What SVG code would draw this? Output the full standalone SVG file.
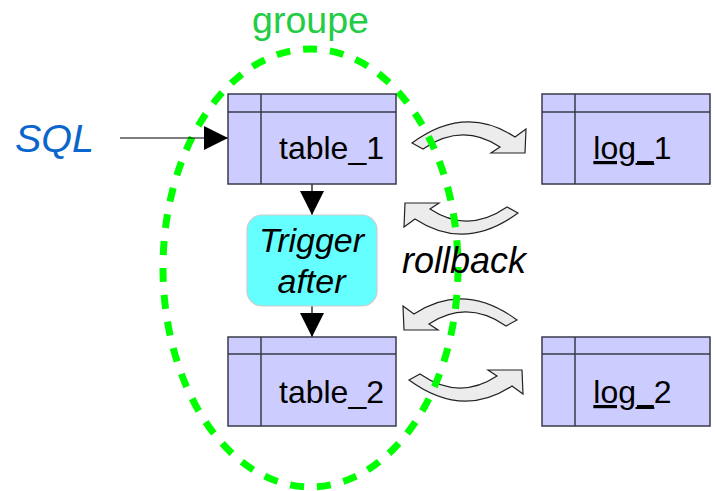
<svg xmlns="http://www.w3.org/2000/svg" width="716" height="491" viewBox="0 0 716 491">
<style>
.tbl{fill:#ccccff;stroke:#3a3a4a;stroke-width:1.5}
.ln{stroke:#3a3a4a;stroke-width:1.5;fill:none}
.t{font-family:"Liberation Sans",Arial,sans-serif;font-size:32px;fill:#000;text-anchor:middle}
.tr{font-family:"Liberation Sans",Arial,sans-serif;font-style:italic;font-size:34px;fill:#000;text-anchor:middle}
.it{font-family:"Liberation Sans",Arial,sans-serif;font-style:italic}
.conn{stroke:#000;stroke-width:1.2;fill:none}
.rb{fill:#ececec;stroke:#222;stroke-width:1.2;stroke-linejoin:miter}
</style>
<defs>
<path id="curl" d="M-56,5 Q-3,-34 47,-1 L58,-9 L57,15 L23,15 L32,9 Q-6,-16 -45,11 Z"/>
<marker id="ah" markerWidth="24" markerHeight="24" refX="24" refY="12" orient="auto" markerUnits="userSpaceOnUse">
<path d="M0,0 L24,12 L0,24 Z" fill="#000"/>
</marker>
</defs>

<g id="rollback-arrows">
<use href="#curl" class="rb" transform="translate(468,138)"/>
<use href="#curl" class="rb" transform="translate(462,218) rotate(180)"/>
<use href="#curl" class="rb" transform="translate(461,315) scale(-1,1)"/>
<use href="#curl" class="rb" transform="translate(465,385) scale(1,-1)"/>
</g>

<g id="groupe">
<ellipse cx="310.5" cy="268" rx="147.5" ry="219" fill="none" stroke="#00ff00" stroke-width="7" stroke-dasharray="14,13"/>
<text x="310.5" y="33" font-family="Liberation Sans, Arial, sans-serif" font-size="37.5" fill="#22cc44" text-anchor="middle">groupe</text>
</g>

<g id="sql">
<text x="15" y="152" class="it" font-size="39.5" fill="#0a66cc">SQL</text>
</g>

<g id="rollback-label">
<text x="402" y="273" class="it" font-size="36" fill="#000">rollback</text>
</g>

<g id="connectors">
<line x1="120" y1="138" x2="228" y2="138" class="conn" marker-end="url(#ah)"/>
<line x1="312" y1="184" x2="312" y2="215" class="conn" marker-end="url(#ah)"/>
<line x1="312" y1="306" x2="312" y2="337" class="conn" marker-end="url(#ah)"/>
</g>

<g id="table_1">
<rect x="228" y="94" width="168" height="90" class="tbl"/>
<line x1="228" y1="112" x2="396" y2="112" class="ln"/>
<line x1="261" y1="94" x2="261" y2="184" class="ln"/>
<text x="331.5" y="159" class="t">table_1</text>
</g>

<g id="log_1">
<rect x="542" y="94" width="168" height="90" class="tbl"/>
<line x1="542" y1="112" x2="710" y2="112" class="ln"/>
<line x1="575" y1="94" x2="575" y2="184" class="ln"/>
<text x="632.5" y="159" class="t"><tspan text-decoration="underline">log_</tspan>1</text>
</g>

<g id="trigger">
<rect x="247" y="215" width="130" height="91" rx="15" ry="15" fill="#66ffff" stroke="#cccccc" stroke-width="1.2"/>
<text x="311.5" y="252" class="tr">Trigger</text>
<text x="311.5" y="293" class="tr">after</text>
</g>

<g id="table_2">
<rect x="228" y="337" width="168" height="89" class="tbl"/>
<line x1="228" y1="354" x2="396" y2="354" class="ln"/>
<line x1="261" y1="337" x2="261" y2="426" class="ln"/>
<text x="331.5" y="403" class="t">table_2</text>
</g>

<g id="log_2">
<rect x="542" y="337" width="168" height="89" class="tbl"/>
<line x1="542" y1="354" x2="710" y2="354" class="ln"/>
<line x1="575" y1="337" x2="575" y2="426" class="ln"/>
<text x="632.5" y="403" class="t"><tspan text-decoration="underline">log_</tspan>2</text>
</g>
</svg>
